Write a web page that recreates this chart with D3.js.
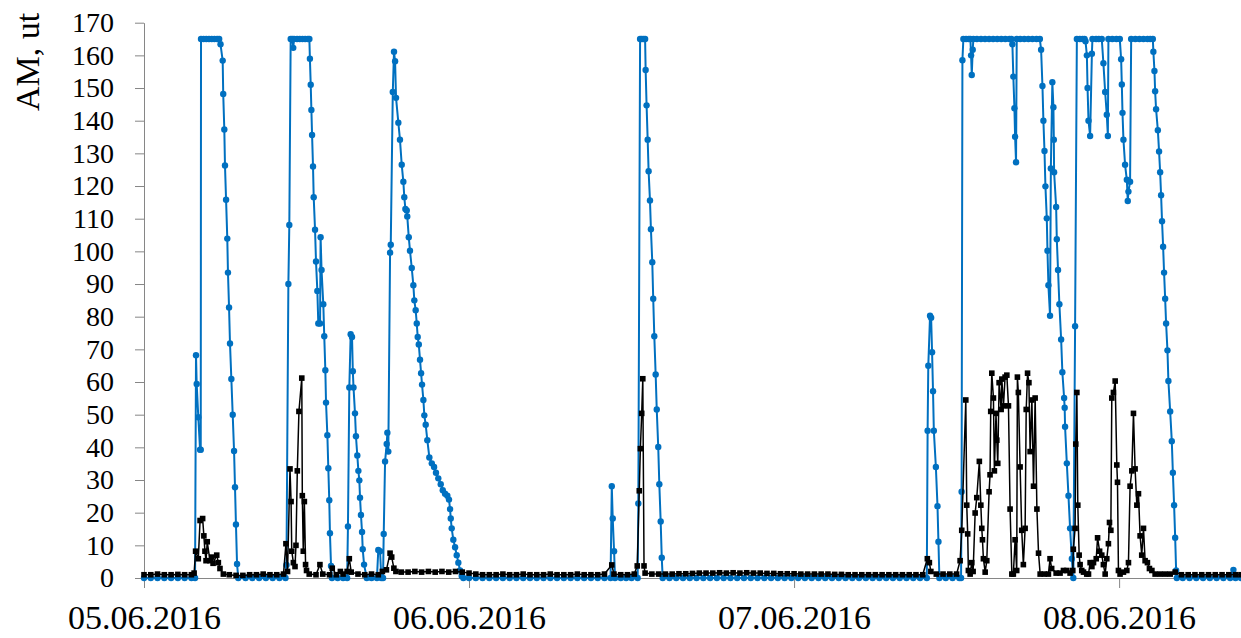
<!DOCTYPE html>
<html>
<head>
<meta charset="utf-8">
<script src="https://cdn.jsdelivr.net/npm/d3@7"></script>
<style>
body { margin: 0; background: #fff; }
svg { display: block; }
</style>
</head>
<body>
<div id="chart"></div>
<script>
// hours since 05.06.2016 00:00, value (ut)
var blueDay1 = [[0,0],[0.5,0],[1,0],[1.5,0],[2,0],[2.5,0],[3,0],[3.5,0],[3.77,0],
  [3.84,68.2],[3.89,59.4],[4.01,49.2],[4.14,39.3],[4.19,39.3],[4.21,165],[4.4,165],[4.6,165],[4.8,165],[5.0,165],[5.2,165],[5.4,165],[5.55,165],
  [5.65,163.4],[5.81,158.4],[5.85,148.2],[5.93,137.3],[5.98,126.3],[6.06,115.8],[6.15,103.9],[6.20,93.5],[6.28,82.8],[6.35,71.8],[6.45,60.9],[6.55,50],[6.65,38.9],[6.72,27.8],[6.79,16.4],[6.87,4.3],[6.96,0],
  [7.5,0],[8,0],[8.5,0],[9,0],[9.5,0],[10,0],[10.45,0],
  [10.52,4],[10.66,90],[10.73,108.1],[10.83,165],[10.95,165],[11.02,162.3],[11.08,165],[11.3,165],[11.5,165],[11.7,165],[11.9,165],[12.1,165],[12.21,165],
  [12.25,159],[12.31,151],[12.36,143.3],[12.41,135.6],[12.48,126],[12.53,116.6],[12.63,106.6],[12.70,96.9],[12.80,87.9],[12.87,77.9],[13.0,77.9],[13.04,104.3],[13.11,94.3],[13.24,83.8],[13.31,74],[13.39,63.6],[13.44,53.7],[13.54,43.7],[13.61,33.6],[13.68,23.8],[13.73,13.7],[13.81,3.7],[13.88,0],
  [14.3,0],[14.7,0],[15.0,0],
  [15.06,15.8],[15.16,58.3],[15.26,74.6],[15.36,73.8],[15.42,63.3],[15.47,58.3],[15.58,50.4],[15.65,43.4],[15.75,37.5],[15.83,32.8],[15.90,29.9],[15.95,24.6],[16.02,19.3],[16.10,14.1],[16.15,8.8],[16.25,4.1],[16.45,0],
  [16.8,0],[17.2,0],[17.30,8.6],[17.43,8.2],[17.52,0],[17.65,0],
  [17.70,13.5],[17.80,35.7],[17.92,41],[17.97,44.5],[18.04,38.7],[18.17,99.6],[18.22,102],[18.37,148.8],[18.46,161.1],[18.54,158.2],[18.61,147],[18.78,139.4],[18.90,134.2],[19.03,126.5],[19.15,121.3],[19.22,116.6],[19.30,113],[19.40,112.5],[19.44,110.7],[19.55,104.3],[19.64,100.2],[19.77,94.9],[19.89,89.6],[19.96,85],[20.06,82],[20.14,77.9],[20.21,73.8],[20.29,71.5],[20.38,66.8],[20.46,62.7],[20.53,59.2],[20.63,54.5],[20.70,49.8],[20.80,46.9],[20.92,42.2],[21.07,36.9],[21.25,35.1],[21.42,34],[21.56,32.2],[21.73,30.5],[21.91,28.7],[22.06,26.9],[22.23,25.8],[22.40,25.2],[22.52,24],[22.60,21.1],[22.65,18.2],[22.72,15.2],[22.84,11.7],[22.97,9.4],[23.09,7],[23.21,4.7],[23.34,2.3],[23.46,0.6],[23.58,0]];

var blueDay2 = [[24,0],[24.5,0],[25,0],[25.5,0],[26,0],[26.5,0],[27,0],[27.5,0],[28,0],[28.5,0],[29,0],[29.5,0],[30,0],[30.5,0],[31,0],[31.5,0],[32,0],[32.5,0],[33,0],[33.5,0],[34,0],[34.45,0],
  [34.54,28.1],[34.61,18.2],[34.71,8.2],[34.78,0],[35.2,0],[35.6,0],[36.0,0],[36.45,0],
  [36.50,22.8],[36.63,165],[36.75,165],[36.88,165],[37.0,165],[37.04,155.5],[37.11,144.7],[37.19,134.2],[37.26,124.5],[37.36,115.6],[37.43,106.8],[37.53,96.7],[37.60,85.5],[37.68,74],[37.78,62.3],[37.86,51.6],[37.97,40.1],[38.05,28.7],[38.15,17.3],[38.23,6.2],[38.30,0],
  [38.8,0],[39.3,0],[39.8,0],[40.3,0],[40.8,0],[41.3,0],[41.8,0],[42.3,0],[42.8,0],[43.3,0],[43.8,0],[44.3,0],[44.8,0],[45.3,0],[45.8,0],[46.3,0],[46.8,0],[47.3,0],[47.8,0]];

var blueDay3 = [[48.3,0],[48.8,0],[49.3,0],[49.8,0],[50.3,0],[50.8,0],[51.3,0],[51.8,0],[52.3,0],[52.8,0],[53.3,0],[53.8,0],[54.3,0],[54.8,0],[55.3,0],[55.8,0],[56.3,0],[56.8,0],[57.3,0],[57.8,0],
  [57.86,45.1],[57.91,65],[58.04,80.3],[58.12,79.7],[58.19,69.1],[58.26,57.2],[58.32,45.1],[58.47,34],[58.59,22],[58.66,11.1],[58.73,0],[59.2,0],[59.7,0],[60.2,0],[60.33,0],
  [60.37,26.4],[60.43,158.5],[60.50,165],[60.7,165],[60.9,165],[61.02,165],[61.07,160],[61.12,154],[61.19,161.7],[61.24,165],[61.5,165],[61.8,165],[62.1,165],[62.4,165],[62.7,165],[63.0,165],[63.3,165],[63.6,165],[63.9,165],[64.05,165],
  [64.12,163.4],[64.19,153.5],[64.27,143.8],[64.32,135.1],[64.39,127.3],[64.44,165],[64.7,165],[65.0,165],[65.3,165],[65.6,165],[65.9,165],[66.15,165],
  [66.24,161.7],[66.34,150.6],[66.41,140],[66.49,130.7],[66.56,119.9],[66.66,110.1],[66.71,100.2],[66.78,89.6],[66.90,80.3],[66.96,125.4],[67.07,151.8],[67.15,144.1],[67.18,134.2],[67.20,124.2],[67.35,113.6],[67.40,103.7],[67.49,94.3],[67.59,83.8],[67.72,73],[67.81,63],[67.94,55.1],[67.98,52.1],[68.01,46.3],[68.14,35.1],[68.26,25.2],[68.38,15.2],[68.51,5.9],[68.62,0],
  [68.75,77.1],[68.88,165],[69.1,165],[69.3,165],[69.45,165],[69.52,164.3],[69.62,160],[69.67,150],[69.74,140],[69.86,135.3],[69.99,160.5],[70.03,165],[70.3,165],[70.5,165],[70.72,165],[70.84,157.6],[70.97,148.8],[71.09,141.8],[71.17,135.3],[71.21,165],[71.5,165],[71.8,165]];

var blueDay4 = [[72.05,165],[72.15,158.8],[72.20,151.1],[72.25,142.4],[72.32,134.2],[72.44,126.5],[72.57,121.9],[72.64,115.4],[72.69,118.3],[72.81,121.3],[72.89,165],[73.2,165],[73.5,165],[73.8,165],[74.1,165],[74.3,165],[74.49,165],
  [74.53,161.1],[74.61,155.2],[74.66,149],[74.73,143.5],[74.86,137.1],[74.95,130.6],[75.03,124.2],[75.10,117.2],[75.17,109.2],[75.25,101.4],[75.32,93.5],[75.40,85.5],[75.47,77.9],[75.57,69.7],[75.64,60.3],[75.77,51],[75.89,41.9],[75.97,32.2],[76.06,22.3],[76.14,12.3],[76.21,2.3],[76.26,0],
  [76.7,0],[77.2,0],[77.7,0],[78.2,0],[78.7,0],[79.2,0],[79.7,0],[80.2,0],[80.44,2.5],[80.6,0],[81,0]];

var blackDay1 = [[0,1],[0.5,1],[1,1.2],[1.5,1],[2,1],[2.5,1.1],[3,1],[3.5,1],[3.7,1.5],
  [3.81,8.2],[4.01,5.9],[4.14,17.6],[4.33,18.2],[4.42,12.9],[4.50,8.2],[4.58,5.3],[4.67,11.1],[4.87,5.3],[5.00,6.4],[5.10,4.5],[5.37,7],[5.49,4.7],[5.61,2.9],[5.86,1.2],
  [6.3,1],[6.8,0.8],[7.3,0.8],[7.8,1],[8.3,1],[8.8,1.2],[9.3,1],[9.8,1],[10.3,1.2],
  [10.48,10.5],[10.6,2],[10.78,33.4],[10.86,23.4],[10.91,8.2],[11.03,4.7],[11.15,3.5],[11.22,10],[11.32,32.8],[11.44,51],[11.65,61.2],[11.69,25.2],[11.76,8.2],[11.84,23.4],[11.93,4.1],[12.0,2.3],[12.2,1.2],
  [12.7,1],[12.99,4.1],[13.2,1.2],[13.7,1],[13.9,3],[14.2,1],[14.5,2],[14.7,1.2],[15.0,2],[15.16,5.9],[15.3,1.8],[15.8,1.2],[16.3,1],[16.8,1.2],[17.3,1],[17.6,2],[17.9,2.5],
  [18.17,7.6],[18.29,6.4],[18.45,3],[18.6,2],[19.0,1.8],[19.5,1.8],[20,2],[20.5,1.8],[21,2],[21.5,1.8],[22,2],[22.5,1.8],[23,2],[23.5,1.8]];

var blackDay2 = [[24,1.5],[24.5,1.2],[25,1],[25.5,1],[26,1],[26.5,1.2],[27,1],[27.5,1],[28,1.2],[28.5,1],[29,1],[29.5,1],[30,1.2],[30.5,1],[31,1],[31.5,1],[32,1.2],[32.5,1],[33,1],[33.5,1],[34,1.2],
  [34.54,4],[34.7,1.2],[35.2,1],[35.7,1],[36.2,1.2],
  [36.42,3.7],[36.57,26.7],[36.65,39.6],[36.75,50.4],[36.83,61],[36.92,3.7],[37.0,1.5],
  [37.5,1.2],[38,1.2],[38.5,1.2],[39,1.2],[39.5,1.3],[40,1.3],[40.5,1.4],[41,1.5],[41.5,1.5],[42,1.5],[42.5,1.6],[43,1.5],[43.5,1.6],[44,1.5],[44.5,1.6],[45,1.5],[45.5,1.5],[46,1.4],[46.5,1.4],[47,1.3],[47.5,1.3]];

var blackDay3 = [[48,1.3],[48.5,1.2],[49,1.2],[49.5,1.2],[50,1.2],[50.5,1.2],[51,1.1],[51.5,1.1],[52,1],[52.5,1],[53,1],[53.5,1],[54,1],[54.5,1],[55,1],[55.5,1],[56,1],[56.5,1],[57,1],[57.5,1],
  [57.84,5.9],[57.99,4.7],[58.1,2],[58.5,1.2],[59,1.2],[59.5,1.2],[60,1.2],
  [60.26,5.3],[60.38,14.6],[60.68,54.5],[60.75,22.3],[60.82,13.5],[60.87,2.3],[61.0,1.2],[61.12,4.7],[61.22,2],[61.37,19.9],[61.49,24.6],[61.68,35.7],[61.79,22.3],[61.86,15.2],[61.91,11.7],[61.98,5.9],[62.11,1.8],[62.23,5.3],
  [62.40,26.4],[62.47,31.6],[62.52,51],[62.60,62.7],[62.72,55.1],[62.79,32.8],[62.91,50.4],[62.97,42.2],[63.04,35.1],[63.14,59.8],[63.29,51.6],[63.34,60.9],[63.46,52.7],[63.58,61.5],[63.71,62.1],[63.83,52.7],[63.95,21.1],[64.08,1.2],[64.19,1.2],[64.32,11.7],[64.44,2.3],
  [64.49,61.5],[64.56,56.8],[64.69,34],[64.81,14.6],[64.93,4.1],[65.06,15.2],[65.14,51.6],[65.24,62.7],[65.34,59.8],[65.43,38.7],[65.56,54.5],[65.68,28.1],[65.80,55.1],[65.93,21.1],[66.05,7.6],[66.17,1.2],
  [66.47,1.2],[66.78,1.2],[66.90,5.9],[67.02,2.9],[67.35,1.5],[67.64,1.5],[67.89,2.3],[68.14,2.3],[68.38,1.5],[68.58,2.3],
  [68.62,8.8],[68.75,15.2],[68.80,41],[68.88,56.8],[68.95,22.3],[69.05,7],[69.12,4.1],[69.24,2.3],[69.37,1.8],[69.61,1.2],[69.74,1.2],[69.86,4.7],[69.99,3.5],[70.11,4.7],[70.31,5.9],[70.41,12.3],[70.56,8.2],[70.72,7],[70.84,4.1],[70.97,1.2],
  [71.09,5.9],[71.21,10.5],[71.29,17],[71.39,14.6],[71.46,55.1],[71.58,56.8],[71.71,60.3],[71.83,34.6],[71.88,29.3],[71.95,2.3]];

var blackDay4 = [[72.07,1.2],[72.32,1.8],[72.57,2.3],[72.69,4.7],[72.81,28.1],[72.94,32.8],[73.06,50.4],[73.18,33.4],[73.31,22.3],[73.43,25.8],[73.55,12.9],[73.67,7],[73.80,15.2],[73.92,5.3],[74.09,4.7],[74.24,2.9],[74.42,2.3],
  [74.66,1.2],[75.03,1.2],[75.40,1.2],[75.77,1.2],[76.14,1.8],[76.6,1],[77.1,1],[77.6,1],[78.1,1],[78.6,1],[79.1,1],[79.6,1],[80.1,1],[80.6,1],[81,1]];

var yTicks = [0,10,20,30,40,50,60,70,80,90,100,110,120,130,140,150,160,170];
var dayTicks = ["2016-06-05","2016-06-06","2016-06-07","2016-06-08"];
var yLabel = "AM, ut";

var blueData = blueDay1.concat(blueDay2, blueDay3, blueDay4);
var blackData = blackDay1.concat(blackDay2, blackDay3, blackDay4);

var start = new Date(2016, 5, 5);
function toDate(h) { return new Date(start.getTime() + h * 3600000); }
var parseDay = d3.timeParse("%Y-%m-%d");

var width = 1241, height = 638;
var serif = "'Liberation Serif', 'Times New Roman', serif";

var svg = d3.select("#chart").append("svg")
    .attr("width", width)
    .attr("height", height)
    .style("background", "#fff");

var x = d3.scaleTime()
    .domain([start, toDate(81)])
    .range([144, 1241]);

var y = d3.scaleLinear()
    .domain([0, 170])
    .range([578, 22.7]);

// axes
var yAxis = d3.axisLeft(y)
    .tickValues(yTicks)
    .tickSize(9)
    .tickSizeOuter(0)
    .tickPadding(21);

svg.append("g")
    .attr("transform", "translate(144,0)")
    .call(yAxis)
    .attr("font-family", serif)
    .attr("font-size", 28)
    .call(function (g) {
        g.select(".domain").attr("stroke", "#868686");
        g.selectAll(".tick line").attr("stroke", "#868686");
        g.selectAll(".tick text").attr("fill", "#000");
    });

var xAxis = d3.axisBottom(x)
    .tickValues(dayTicks.map(parseDay))
    .tickFormat(d3.timeFormat("%d.%m.%Y"))
    .tickSize(10)
    .tickSizeOuter(0)
    .tickPadding(17);

svg.append("g")
    .attr("transform", "translate(0,578)")
    .call(xAxis)
    .attr("font-family", serif)
    .attr("font-size", 34)
    .call(function (g) {
        g.select(".domain").attr("stroke", "#868686");
        g.selectAll(".tick line").attr("stroke", "#868686");
        g.selectAll(".tick text").attr("fill", "#000");
    });

svg.append("text")
    .attr("transform", "translate(39,62) rotate(-90)")
    .attr("text-anchor", "middle")
    .attr("font-family", serif)
    .attr("font-size", 34)
    .text(yLabel);

var line = d3.line()
    .x(function (d) { return x(toDate(d[0])); })
    .y(function (d) { return y(d[1]); });

// blue series
svg.append("path")
    .datum(blueData)
    .attr("fill", "none")
    .attr("stroke", "#0070C0")
    .attr("stroke-width", 2)
    .attr("stroke-linejoin", "round")
    .attr("d", line);

svg.append("g").selectAll("circle")
    .data(blueData)
    .enter()
    .append("circle")
    .attr("cx", function (d) { return x(toDate(d[0])); })
    .attr("cy", function (d) { return y(d[1]); })
    .attr("r", 3.2)
    .attr("fill", "#0070C0");

// black series
svg.append("path")
    .datum(blackData)
    .attr("fill", "none")
    .attr("stroke", "#000")
    .attr("stroke-width", 1.5)
    .attr("stroke-linejoin", "round")
    .attr("d", line);

svg.append("g").selectAll("rect")
    .data(blackData)
    .enter()
    .append("rect")
    .attr("x", function (d) { return x(toDate(d[0])) - 2.8; })
    .attr("y", function (d) { return y(d[1]) - 2.8; })
    .attr("width", 5.6)
    .attr("height", 5.6)
    .attr("fill", "#000");
</script>
</body>
</html>
